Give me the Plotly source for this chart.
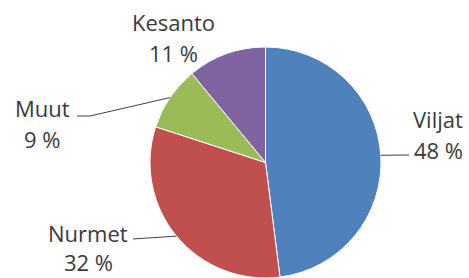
import math
import plotly.graph_objects as go

categories = ["Viljat", "Nurmet", "Muut", "Kesanto"]
values = [48, 32, 9, 11]
colors = ["#4F81BD", "#C0504D", "#9BBB59", "#8064A2"]

W, H = 469, 278
# pie placement (pixels)
left, right, top = 149, 382, 47
dom_x = [left / W, right / W]
dom_y = [0, 1 - top / H]
r = min(right - left, H - top) / 2
cx = (left + right) / 2
cy = H - r

def px(x):
    return x / W

def py(y):
    return 1 - y / H

fig = go.Figure(go.Pie(
    labels=categories, values=values, sort=False, direction="clockwise",
    rotation=0, marker=dict(colors=colors, line=dict(color="white", width=1)),
    textinfo="none", hoverinfo="label+percent", domain=dict(x=dom_x, y=dom_y),
    showlegend=False,
))

# label layout: (name center x, name center y, line end points or None)
label_pos = {
    "Viljat": (438, 119, [(409, 155)]),
    "Nurmet": (88, 233, [(133, 239)]),
    "Muut": (42, 108, [(90, 116), (77, 116)]),
    "Kesanto": (173, 22, None),
}

total = sum(values)
cum = 0
font = dict(family="Open Sans", size=22, color="#3a3a3a")
for cat, v in zip(categories, values):
    mid = (cum + v / 2) / total * 2 * math.pi
    cum += v
    ex = cx + r * math.sin(mid)
    ey = cy - r * math.cos(mid)
    lx, ly, pts = label_pos[cat]
    pct = round(v / total * 100)
    fig.add_annotation(x=px(lx), y=py(ly), xref="paper", yref="paper",
                       text=cat, showarrow=False, font=font,
                       xanchor="center", yanchor="middle", borderpad=0)
    pct_y = min(ly + 32, H - 15)
    fig.add_annotation(x=px(lx), y=py(pct_y + 15), xref="paper", yref="paper",
                       text=f"{pct} %", showarrow=False, font=font,
                       xanchor="center", yanchor="bottom", borderpad=0)
    if pts:
        path = f"M {px(ex)} {py(ey)}"
        for (x, y) in pts:
            path += f" L {px(x)} {py(y)}"
        fig.add_shape(type="path", path=path, xref="paper", yref="paper",
                      line=dict(color="#404040", width=1))

fig.update_layout(width=W, height=H, margin=dict(l=0, r=0, t=0, b=0),
                  paper_bgcolor="white", plot_bgcolor="white")
fig.write_html("out.html", config={"displayModeBar": False},
               post_script="document.body.style.margin='0';")
